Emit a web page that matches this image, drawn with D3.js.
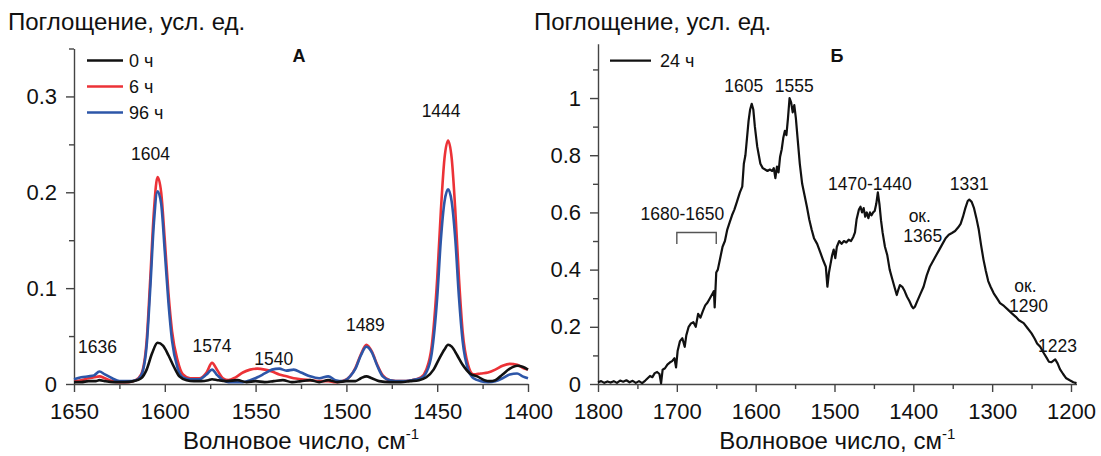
<!DOCTYPE html>
<html>
<head>
<meta charset="utf-8">
<script src="https://cdn.jsdelivr.net/npm/d3@7/dist/d3.min.js"></script>
<style>
  html, body { margin: 0; padding: 0; background: #fff; }
  svg { display: block; font-family: "Liberation Sans", Arial, sans-serif; }
</style>
</head>
<body>
<svg id="chart" width="1101" height="456"></svg>
<script>
// ---------- Panel A: IR spectra after 0, 6 and 96 h ----------
const waveA0 = [1650,1646,1642,1638,1636,1633,1628,1622,1617,1613,1610,1607,1604,1601,1598,1595,1592,1588,1584,1580,1576,1574,1571,1566,1560,1555,1550,1545,1540,1535,1530,1525,1520,1515,1510,1505,1500,1495,1492,1489,1486,1482,1476,1470,1465,1460,1456,1452,1449,1446,1444,1442,1439,1436,1432,1428,1424,1421,1418,1414,1410,1406,1403,1400];
const abs0h = [0.002,0.002,0.003,0.003,0.004,0.003,0.002,0.002,0.003,0.006,0.015,0.032,0.043,0.040,0.030,0.018,0.008,0.004,0.003,0.003,0.004,0.005,0.004,0.003,0.004,0.002,0.003,0.002,0.003,0.004,0.002,0.003,0.004,0.002,0.004,0.002,0.003,0.003,0.006,0.008,0.006,0.003,0.002,0.002,0.003,0.004,0.007,0.015,0.026,0.036,0.041,0.039,0.030,0.020,0.011,0.008,0.004,0.003,0.004,0.010,0.016,0.019,0.018,0.015];

const waveA = [1650,1646,1642,1639,1636,1633,1629,1625,1620,1616,1613,1610,1608,1606,1604,1602,1600,1598,1596,1593,1590,1586,1581,1577,1574,1571,1568,1565,1561,1557,1553,1549,1545,1541,1537,1533,1529,1525,1520,1515,1510,1506,1502,1498,1495,1492,1489,1486,1483,1480,1476,1470,1464,1459,1456,1453,1450,1448,1446,1444,1442,1440,1438,1436,1433,1430,1426,1422,1418,1414,1410,1406,1403,1400];
const abs6h = [0.003,0.004,0.006,0.007,0.008,0.006,0.003,0.002,0.002,0.004,0.010,0.045,0.110,0.180,0.216,0.200,0.150,0.095,0.055,0.025,0.010,0.006,0.006,0.012,0.022,0.014,0.006,0.004,0.007,0.012,0.015,0.016,0.015,0.013,0.010,0.008,0.006,0.005,0.004,0.003,0.003,0.002,0.003,0.008,0.017,0.031,0.041,0.034,0.020,0.009,0.004,0.003,0.004,0.007,0.015,0.040,0.110,0.180,0.235,0.254,0.235,0.180,0.110,0.055,0.020,0.010,0.011,0.012,0.015,0.019,0.021,0.020,0.017,0.015];
const abs96h = [0.005,0.007,0.008,0.009,0.013,0.010,0.006,0.003,0.003,0.004,0.009,0.040,0.100,0.168,0.201,0.188,0.138,0.085,0.045,0.017,0.007,0.005,0.005,0.010,0.015,0.009,0.004,0.002,0.002,0.002,0.004,0.007,0.011,0.015,0.016,0.014,0.015,0.012,0.008,0.006,0.008,0.004,0.003,0.008,0.016,0.030,0.039,0.033,0.019,0.008,0.004,0.003,0.004,0.006,0.012,0.032,0.090,0.150,0.190,0.203,0.190,0.150,0.090,0.045,0.015,0.006,0.003,0.002,0.003,0.006,0.010,0.011,0.008,0.006];

const seriesA = [
  { name: "6 ч",  wave: waveA,  abs: abs6h,  color: "#ec3237" },
  { name: "96 ч", wave: waveA,  abs: abs96h, color: "#2d56a8" },
  { name: "0 ч",  wave: waveA0, abs: abs0h,  color: "#111111" }
];
const legendA = ["0 ч", "6 ч", "96 ч"];
const ticksXA = [1650, 1600, 1550, 1500, 1450, 1400];
const minorXA = [1625, 1575, 1525, 1475, 1425];
const ticksYA = [0, 0.1, 0.2, 0.3];
const minorYA = [0.05, 0.15, 0.25, 0.35];
const peaksA = [
  { label: "1636", wave: 1636, abs: 0.013 },
  { label: "1604", wave: 1604, abs: 0.216 },
  { label: "1574", wave: 1574, abs: 0.022 },
  { label: "1540", wave: 1540, abs: 0.016 },
  { label: "1489", wave: 1489, abs: 0.041 },
  { label: "1444", wave: 1444, abs: 0.254 }
];

// ---------- Panel Б: spectrum after 24 h (normalised) ----------
const waveB = [1800,1796,1792,1788,1784,1780,1776,1772,1768,1764,1760,1756,1752,1748,1744,1740,1737,1734,1731,1728,1725,1722,1720,1718,1715,1712,1709,1706,1703,1701,1699,1696,1693,1690,1688,1685,1682,1679,1676,1673,1670,1667,1664,1661,1658,1655,1653,1652,1650,1648,1645,1642,1639,1636,1633,1630,1627,1624,1620,1617,1615,1613,1611,1609,1607,1605,1603,1601,1598,1596,1594,1591,1588,1585,1582,1579,1577,1575,1573,1571,1569,1567,1565,1563,1561,1559,1557,1555,1553,1551,1549,1547,1544,1541,1538,1535,1532,1529,1526,1522,1518,1514,1511,1509,1507,1505,1503,1501,1499,1497,1494,1491,1488,1485,1482,1479,1476,1474,1472,1469,1467,1465,1463,1461,1459,1457,1455,1453,1451,1449,1447,1445,1443,1441,1439,1436,1433,1430,1427,1424,1421,1419,1417,1414,1411,1408,1405,1402,1400,1398,1395,1391,1387,1383,1379,1375,1371,1367,1363,1359,1355,1351,1347,1343,1340,1337,1334,1331,1329,1326,1323,1320,1317,1314,1311,1308,1305,1302,1298,1294,1290,1285,1280,1275,1270,1266,1260,1255,1250,1246,1243,1239,1235,1231,1228,1225,1223,1220,1217,1214,1210,1206,1201,1197,1193];
const abs24h = [0.006,0.010,0.004,0.009,0.005,0.010,0.004,0.012,0.008,0.013,0.006,0.011,0.004,0.010,0.003,0.012,0.020,0.028,0.024,0.038,0.042,0.035,0.002,0.050,0.055,0.068,0.075,0.080,0.090,0.058,0.115,0.150,0.160,0.130,0.170,0.200,0.212,0.216,0.200,0.245,0.232,0.255,0.275,0.285,0.300,0.315,0.325,0.268,0.390,0.400,0.440,0.480,0.500,0.540,0.565,0.590,0.610,0.635,0.670,0.690,0.770,0.800,0.860,0.920,0.960,0.980,0.960,0.900,0.830,0.800,0.770,0.755,0.750,0.745,0.750,0.745,0.755,0.720,0.760,0.740,0.795,0.820,0.860,0.885,0.870,0.930,1.000,0.985,0.950,0.975,0.930,0.865,0.770,0.700,0.660,0.620,0.575,0.540,0.510,0.490,0.460,0.430,0.410,0.340,0.390,0.420,0.450,0.470,0.440,0.480,0.500,0.490,0.500,0.495,0.505,0.500,0.515,0.530,0.575,0.610,0.620,0.600,0.615,0.585,0.600,0.580,0.600,0.590,0.600,0.605,0.630,0.670,0.630,0.573,0.530,0.480,0.450,0.400,0.370,0.340,0.311,0.330,0.346,0.340,0.325,0.305,0.290,0.272,0.265,0.270,0.290,0.315,0.340,0.380,0.410,0.430,0.450,0.470,0.490,0.510,0.522,0.528,0.535,0.548,0.560,0.585,0.615,0.640,0.645,0.637,0.615,0.580,0.540,0.485,0.435,0.395,0.360,0.340,0.317,0.300,0.283,0.273,0.260,0.247,0.235,0.223,0.213,0.195,0.177,0.158,0.142,0.130,0.110,0.092,0.078,0.076,0.080,0.086,0.072,0.052,0.035,0.020,0.012,0.006,0.003,0.002];

const legendB = ["24 ч"];
const ticksXB = [1800, 1700, 1600, 1500, 1400, 1300, 1200];
const minorXB = [1750, 1650, 1550, 1450, 1350, 1250];
const ticksYB = [0, 0.2, 0.4, 0.6, 0.8, 1];
const minorYB = [0.1, 0.3, 0.5, 0.7, 0.9, 1.1];
const bandsB = [
  { lines: ["1605"], wave: 1605, abs: 0.98 },
  { lines: ["1555"], wave: 1555, abs: 1.0 },
  { lines: ["1680-1650"], wave: 1665, abs: 0.28 },
  { lines: ["1470-1440"], wave: 1455, abs: 0.67 },
  { lines: ["1331"], wave: 1331, abs: 0.645 },
  { lines: ["ок.", "1365"], wave: 1365, abs: 0.5 },
  { lines: ["ок.", "1290"], wave: 1290, abs: 0.27 },
  { lines: ["1223"], wave: 1223, abs: 0.086 }
];
const bracketB = [1700, 1650];

// ---------- drawing ----------
const svg = d3.select("#chart");
const axisColor = "#444";
const FONT_TICK = 22, FONT_NOTE = 17.5, FONT_TITLE = 24;

const xA = d3.scaleLinear().domain([1650, 1400]).range([74, 528]);
const yA = d3.scaleLinear().domain([0, 0.35]).range([384, 48.5]);
const xB = d3.scaleLinear().domain([1800, 1193]).range([598, 1076.5]);
const yB = d3.scaleLinear().domain([0, 1.19]).range([384, 43.7]);

function fmt(v) { return v === 0 ? "0" : String(+v.toFixed(2)); }

function drawAxes(x, y, tx, mx, ty, my) {
  const g = svg.append("g");
  g.append("g").attr("transform", `translate(0,${y(0)})`)
    .call(d3.axisBottom(x).tickValues(tx).tickFormat(d => d).tickSize(8).tickSizeOuter(0).tickPadding(11));
  g.append("g").attr("transform", `translate(0,${y(0)})`)
    .call(d3.axisBottom(x).tickValues(mx).tickFormat("").tickSize(5).tickSizeOuter(0))
    .select(".domain").remove();
  g.append("g").attr("transform", `translate(${x.range()[0]},0)`)
    .call(d3.axisLeft(y).tickValues(ty).tickFormat(fmt).tickSize(8).tickSizeOuter(0).tickPadding(9));
  g.append("g").attr("transform", `translate(${x.range()[0]},0)`)
    .call(d3.axisLeft(y).tickValues(my).tickFormat("").tickSize(5).tickSizeOuter(0))
    .select(".domain").remove();
  g.selectAll("path.domain, .tick line").attr("stroke", axisColor).attr("stroke-width", 1.4);
  g.selectAll(".tick text").attr("fill", "#111").style("font-size", FONT_TICK + "px")
    .style("font-family", '"Liberation Sans", Arial, sans-serif');
  return g;
}

function axisTitles(x, titleX, letter) {
  const cx = (x.range()[0] + x.range()[1]) / 2;
  const t = svg.append("text").attr("x", cx).attr("y", 449).attr("text-anchor", "middle")
    .style("font-size", FONT_TITLE + "px").attr("fill", "#111");
  t.append("tspan").text("Волновое число, см");
  t.append("tspan").attr("dy", -10).style("font-size", "15px").text("-1");
  svg.append("text").attr("x", titleX).attr("y", 30).style("font-size", FONT_TITLE + "px")
    .attr("fill", "#111").text("Поглощение, усл. ед.");
  svg.append("text").attr("x", letter.x).attr("y", 62).attr("text-anchor", "middle")
    .style("font-size", "18px").style("font-weight", "bold").attr("fill", "#111").text(letter.t);
}

// Panel A
drawAxes(xA, yA, ticksXA, minorXA, ticksYA, minorYA);
axisTitles(xA, 8, { x: 299, t: "А" });

const lineA = d3.line().curve(d3.curveMonotoneX);
seriesA.forEach(s => {
  svg.append("path")
    .attr("d", lineA(s.wave.map((w, i) => [xA(w), yA(s.abs[i])])))
    .attr("fill", "none").attr("stroke", s.color).attr("stroke-width", 2.6)
    .attr("stroke-linejoin", "round");
});

const legA = svg.append("g");
legendA.forEach((name, i) => {
  const s = seriesA.find(d => d.name === name);
  const yy = 60.5 + i * 26;
  legA.append("line").attr("x1", 87).attr("x2", 123).attr("y1", yy).attr("y2", yy)
    .attr("stroke", s.color).attr("stroke-width", 2.6);
  legA.append("text").attr("x", 129).attr("y", yy).attr("dy", "0.35em")
    .style("font-size", "18px").attr("fill", "#111").text(name);
});

// peak labels, offset from each peak's apex
const noteOffA = { "1636": [-2, -19], "1604": [-7, -17], "1574": [0, -11], "1540": [0, -4], "1489": [-1, -14], "1444": [-7, -24] };
peaksA.forEach(p => {
  const o = noteOffA[p.label];
  svg.append("text").attr("x", xA(p.wave) + o[0]).attr("y", yA(p.abs) + o[1])
    .attr("text-anchor", "middle").style("font-size", FONT_NOTE + "px").attr("fill", "#111").text(p.label);
});

// Panel Б
drawAxes(xB, yB, ticksXB, minorXB, ticksYB, minorYB);
axisTitles(xB, 534, { x: 837, t: "Б" });

const lineB = d3.line();
svg.append("path")
  .attr("d", lineB(waveB.map((w, i) => [xB(w), yB(abs24h[i])])))
  .attr("fill", "none").attr("stroke", "#111").attr("stroke-width", 2.2)
  .attr("stroke-linejoin", "round");

svg.append("line").attr("x1", 610).attr("x2", 651).attr("y1", 60.7).attr("y2", 60.7)
  .attr("stroke", "#111").attr("stroke-width", 2.2);
svg.append("text").attr("x", 660).attr("y", 60.7).attr("dy", "0.35em")
  .style("font-size", "18px").attr("fill", "#111").text(legendB[0]);

// band labels: anchor positions (wavenumber for x, pixel baseline for y)
const notePosB = {
  "1605": [1615, 92], "1555": [1551, 92], "1680-1650": [1693, 220], "1470-1440": [1455, 190],
  "1331": [1329, 190], "1365": [1388, 222], "1290": [1254, 292], "1223": [1217, 352]
};
bandsB.forEach(b => {
  const key = b.lines[b.lines.length - 1];
  const p = notePosB[key];
  b.lines.forEach((ln, j) => {
    svg.append("text").attr("x", xB(p[0]) + (ln === "ок." ? -3 : 0)).attr("y", p[1] + j * 20)
      .attr("text-anchor", "middle").style("font-size", FONT_NOTE + "px").attr("fill", "#111").text(ln);
  });
});

// bracket marking the 1680-1650 band
const bx0 = xB(bracketB[0]), bx1 = xB(bracketB[1]), byTop = yB(0.53), byBot = yB(0.49);
svg.append("path")
  .attr("d", `M${bx0},${byBot}V${byTop}H${bx1}V${byBot}`)
  .attr("fill", "none").attr("stroke", "#555").attr("stroke-width", 1.4);
</script>
</body>
</html>
